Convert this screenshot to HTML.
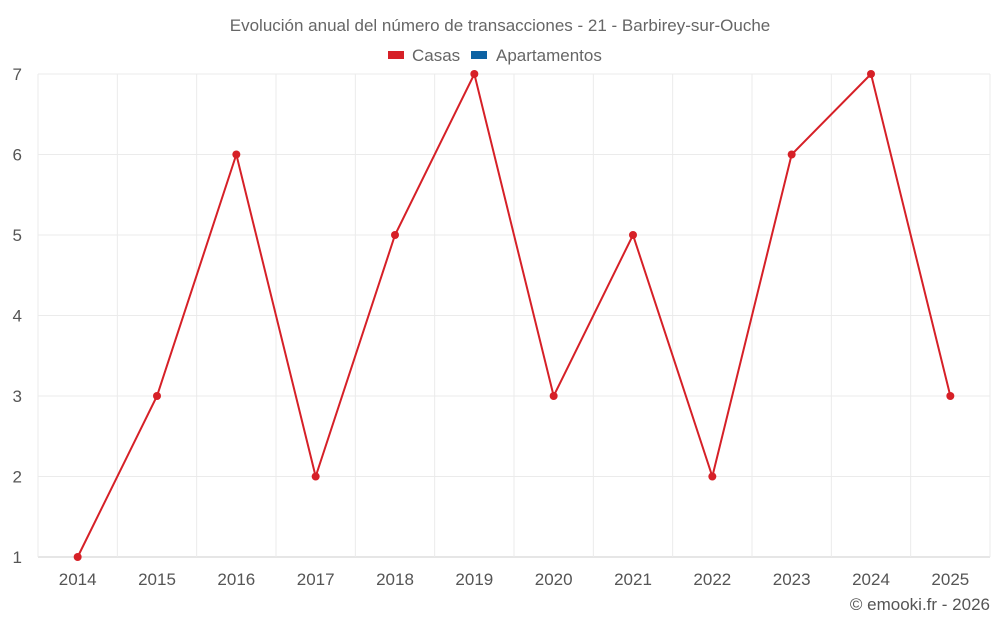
<!DOCTYPE html>
<html><head><meta charset="utf-8"><style>
body{margin:0;background:#fff;width:1000px;height:625px;overflow:hidden;font-family:"Liberation Sans",sans-serif}
text{font-family:"Liberation Sans",sans-serif}
</style></head><body>
<svg id="chart" width="1000" height="625" xmlns="http://www.w3.org/2000/svg">
<text x="500" y="31" text-anchor="middle" font-size="17" fill="#666">Evolución anual del número de transacciones - 21 - Barbirey-sur-Ouche</text>
<g>
<rect x="388" y="51" width="16" height="8" fill="#d62027"/>
<text x="412" y="61" font-size="17" fill="#666">Casas</text>
<rect x="471" y="51" width="16" height="8" fill="#0d62a3"/>
<text x="496" y="61" font-size="17" fill="#666">Apartamentos</text>
</g>
<g id="grid"></g>
<g id="axes"></g>
<g id="series"></g>
<text x="990" y="610" text-anchor="end" font-size="17" fill="#555">© emooki.fr - 2026</text>
</svg>
<script>
const years=["2014","2015","2016","2017","2018","2019","2020","2021","2022","2023","2024","2025"];
const casas=[1,3,6,2,5,7,3,5,2,6,7,3];
const yTicks=[1,2,3,4,5,6,7];
const L=38,R=990,T=74,B=557,ymin=1,ymax=7;
const bw=(R-L)/years.length;
const xs=i=>L+bw*(i+0.5);
const ys=v=>B-(v-ymin)/(ymax-ymin)*(B-T);
const NS="http://www.w3.org/2000/svg";
function mk(tag,attrs,parent,txt){const e=document.createElementNS(NS,tag);for(const k in attrs)e.setAttribute(k,attrs[k]);if(txt!=null)e.textContent=txt;parent.appendChild(e);return e;}
const grid=document.getElementById('grid'),axes=document.getElementById('axes'),ser=document.getElementById('series');
yTicks.forEach(t=>{
 const l=mk('line',{x1:L,x2:R,y1:ys(t),y2:ys(t),stroke:t===ymin?'#ccc':'#ebebeb','stroke-width':1},grid);
 
 
 const tx=mk('text',{x:22,y:ys(t)+6,'text-anchor':'end','font-size':17,fill:'#555'},axes,t);
 
 
});
for(let i=0;i<=years.length;i++){
 const l=mk('line',{x1:L+bw*i,x2:L+bw*i,y1:T,y2:B+(i===0?0:0),stroke:'#ebebeb','stroke-width':1},grid);
 
 
}
years.forEach((y,i)=>{
 const tx=mk('text',{x:xs(i),y:585,'text-anchor':'middle','font-size':17,fill:'#555'},axes,y);
 
 
});
const p=mk('polyline',{points:casas.map((v,i)=>xs(i)+','+ys(v)).join(' '),fill:'none',stroke:'#d62027','stroke-width':2},ser);


casas.forEach((v,i)=>{
 const c=mk('circle',{cx:xs(i),cy:ys(v),r:4,fill:'#d62027'},ser);
 
 
});
</script>
</body></html>
